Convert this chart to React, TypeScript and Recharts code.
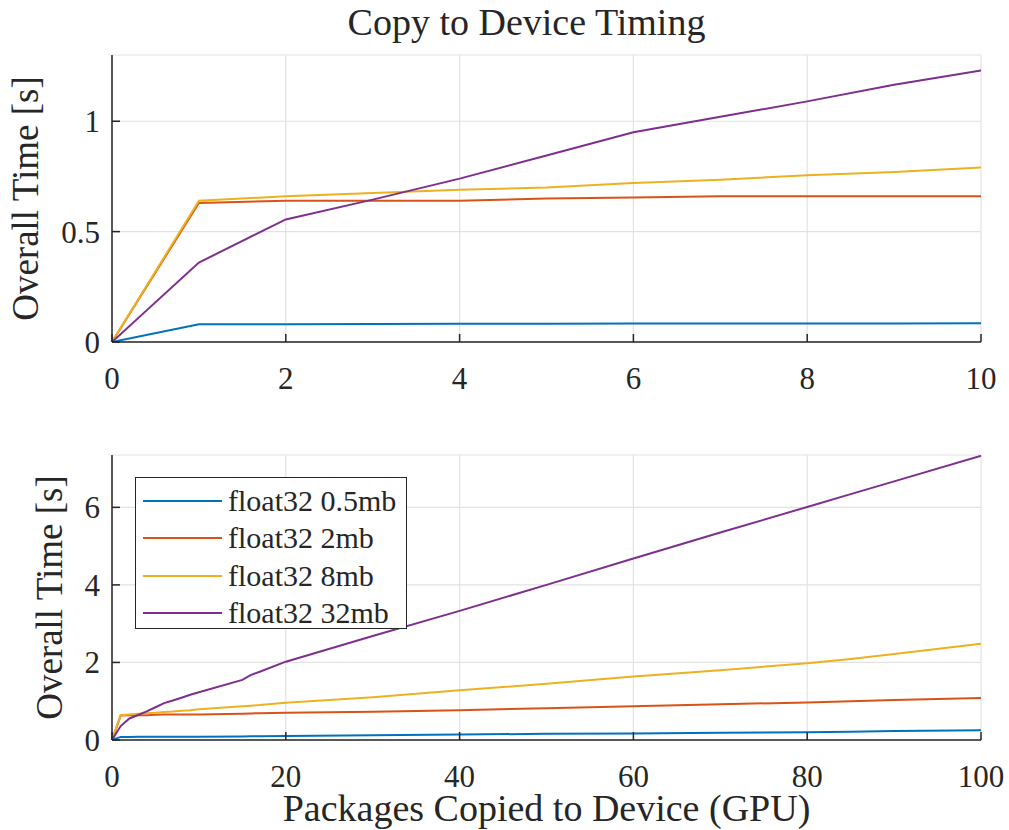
import React from 'react';
import { LineChart, Line, XAxis, YAxis, CartesianGrid, Legend } from 'recharts';

// packages copied to device (x) and overall time in seconds for each buffer size
const packages = [0, 1, 2, 3, 4, 5, 6, 7, 8, 9, 10, 15, 16, 17, 20, 30, 40, 50, 60, 70, 80, 85, 90, 100];
const time05mb = [0, 0.08, 0.08, 0.082, 0.083, 0.083, 0.084, 0.084, 0.084, 0.084, 0.085, 0.092, 0.094, 0.096, 0.1, 0.12, 0.14, 0.16, 0.17, 0.19, 0.2, 0.215, 0.23, 0.25];
const time2mb = [0, 0.63, 0.64, 0.64, 0.64, 0.65, 0.655, 0.66, 0.66, 0.66, 0.66, 0.68, 0.685, 0.69, 0.7, 0.73, 0.77, 0.82, 0.87, 0.92, 0.97, 1.0, 1.03, 1.08];
const time8mb = [0, 0.64, 0.66, 0.675, 0.69, 0.7, 0.72, 0.735, 0.755, 0.77, 0.79, 0.87, 0.885, 0.9, 0.96, 1.1, 1.28, 1.45, 1.64, 1.8, 1.98, 2.09, 2.22, 2.48];
const time32mb = [0, 0.36, 0.555, 0.645, 0.74, 0.845, 0.95, 1.02, 1.09, 1.165, 1.23, 1.55, 1.68, 1.76, 2.02, 2.68, 3.33, 4.0, 4.68, 5.35, 6.01, 6.34, 6.67, 7.33];

const seriesKeys = ['s05', 's2', 's8', 's32'];
const seriesNames = ['float32 0.5mb', 'float32 2mb', 'float32 8mb', 'float32 32mb'];
const seriesColors = ['#0072BD', '#D95319', '#EDB120', '#7E2F8E'];

const topXTicks = [0, 2, 4, 6, 8, 10];
const topYTicks = [0, 0.5, 1];
const bottomXTicks = [0, 20, 40, 60, 80, 100];
const bottomYTicks = [0, 2, 4, 6];

const data = packages.map((p, i) => ({
  packages: p,
  s05: time05mb[i],
  s2: time2mb[i],
  s8: time8mb[i],
  s32: time32mb[i],
}));

const font = '"Liberation Serif", serif';
const ink = '#262626';
const tickStyle = { fill: ink, fontSize: 31, fontFamily: font };
const axisStyle = { stroke: ink, strokeWidth: 1.5 };

const YLabel = ({ viewBox, baseX }: any) => {
  const vb = viewBox || { x: 0, y: 55, height: 287 };
  const cx = vb.x + baseX;
  const cy = vb.y + vb.height / 2;
  return (
    <text x={cx} y={cy} transform={`rotate(-90 ${cx} ${cy})`} textAnchor="middle" fill={ink} fontSize={37} fontFamily={font}>
      Overall Time [s]
    </text>
  );
};

const XLabel = ({ viewBox }: any) => {
  const vb = viewBox || { x: 112, y: 340, width: 869 };
  return (
    <text x={vb.x + vb.width / 2} y={vb.y + 81} textAnchor="middle" fill={ink} fontSize={38} fontFamily={font}>
      Packages Copied to Device (GPU)
    </text>
  );
};

const LegendBox = ({ payload }: any) => {
  // keep the plotting order, not the alphabetical one
  const items = [...(payload || [])].sort((a: any, b: any) => seriesNames.indexOf(a.value) - seriesNames.indexOf(b.value));
  return (
    <div style={{ border: `1.5px solid ${ink}`, background: '#fff', width: 272, height: 152, boxSizing: 'border-box', paddingTop: 4 }}>
      {items.map((entry: any) => (
        <div key={entry.value} style={{ display: 'flex', alignItems: 'center', height: 37.5 }}>
          <svg width={92} height={10} style={{ flex: 'none' }}>
            <line x1={7} x2={86} y1={5} y2={5} stroke={entry.color} strokeWidth={2} />
          </svg>
          <span style={{ fontFamily: font, fontSize: 30, color: ink, lineHeight: 1, whiteSpace: 'nowrap' }}>{entry.value}</span>
        </div>
      ))}
    </div>
  );
};

const renderLines = () =>
  seriesKeys.map((k, i) => (
    <Line
      key={k}
      type="linear"
      dataKey={k}
      name={seriesNames[i]}
      stroke={seriesColors[i]}
      strokeWidth={2}
      dot={false}
      activeDot={false}
      isAnimationActive={false}
    />
  ));

export default function App() {
  return (
    <div style={{ position: 'absolute', left: 0, top: 0, width: 1009, height: 830, background: '#fff' }}>
      <div style={{ position: 'absolute', left: 0, top: 0, width: 1053, textAlign: 'center', fontFamily: font, fontSize: 38, color: ink, lineHeight: '44px' }}>
        Copy to Device Timing
      </div>

      <div style={{ position: 'absolute', left: 0, top: 0 }}>
        <LineChart width={1009} height={400} data={data} margin={{ top: 55, right: 28, bottom: 0, left: 0 }}>
          <CartesianGrid stroke="#e2e2e2" strokeWidth={1.2} />
          <XAxis
            dataKey="packages"
            type="number"
            domain={[0, 10]}
            ticks={topXTicks}
            allowDataOverflow
            height={58}
            tickSize={-8}
            tickMargin={33}
            tick={tickStyle}
            axisLine={axisStyle}
            tickLine={axisStyle}
          />
          <YAxis
            type="number"
            domain={[0, 1.3]}
            ticks={topYTicks}
            allowDataOverflow
            width={112}
            tickSize={-8}
            tickMargin={20}
            tick={tickStyle}
            axisLine={axisStyle}
            tickLine={axisStyle}
            label={<YLabel baseX={38} />}
          />
          {renderLines()}
        </LineChart>
      </div>

      <div style={{ position: 'absolute', left: 0, top: 400 }}>
        <LineChart width={1009} height={430} data={data} margin={{ top: 55, right: 28, bottom: 0, left: 0 }}>
          <CartesianGrid stroke="#e2e2e2" strokeWidth={1.2} />
          <XAxis
            dataKey="packages"
            type="number"
            domain={[0, 100]}
            ticks={bottomXTicks}
            height={90}
            tickSize={-8}
            tickMargin={33}
            tick={tickStyle}
            axisLine={axisStyle}
            tickLine={axisStyle}
            label={<XLabel />}
          />
          <YAxis
            type="number"
            domain={[0, 7.35]}
            ticks={bottomYTicks}
            allowDataOverflow
            width={112}
            tickSize={-8}
            tickMargin={20}
            tick={tickStyle}
            axisLine={axisStyle}
            tickLine={axisStyle}
            label={<YLabel baseX={62} />}
          />
          <Legend
            layout="vertical"
            align="center"
            verticalAlign="middle"
            content={<LegendBox />}
            wrapperStyle={{ left: 135, top: 77, width: 272, height: 152 }}
          />
          {renderLines()}
        </LineChart>
      </div>
    </div>
  );
}
